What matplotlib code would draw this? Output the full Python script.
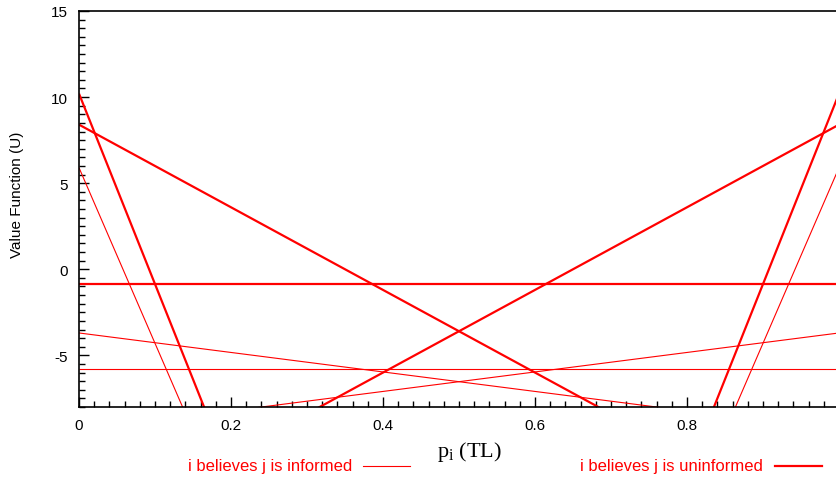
import matplotlib
matplotlib.use('Agg')
from matplotlib import pyplot as plt
from matplotlib.lines import Line2D
from matplotlib.ticker import MultipleLocator

# value function at p_i = 0 and p_i = 1 for each strategy line
p_ends = [0.0, 1.0]

# i believes j is uninformed
uninformed = [
    [10.2, -100.4],
    [-100.4, 10.2],
    [8.4, -15.6],
    [-15.6, 8.4],
    [-0.85, -0.85],
]

# i believes j is informed
informed = [
    [5.9, -96.1],
    [-96.1, 5.9],
    [-3.7, -9.36],
    [-9.36, -3.7],
    [-5.8, -5.8],
]

x_ticks = [0, 0.2, 0.4, 0.6, 0.8]
x_tick_labels = ['0', '0.2', '0.4', '0.6', '0.8']
y_ticks = [-5, 0, 5, 10, 15]

red = '#ff0000'
sans = 'Liberation Sans'
serif = 'Liberation Serif'

plt.rcParams['axes.unicode_minus'] = False
plt.rcParams['mathtext.fontset'] = 'custom'
plt.rcParams['mathtext.rm'] = serif
plt.rcParams['mathtext.it'] = serif

W, H = 836, 481
fig = plt.figure(figsize=(W / 100, H / 100), dpi=100)
ax = fig.add_axes([79 / W, (H - 408) / H, 760 / W, 396 / H])

for v in uninformed:
    ax.plot(p_ends, v, color=red, linewidth=1.6, solid_capstyle='butt')
for v in informed:
    ax.plot(p_ends, v, color=red, linewidth=0.8, solid_capstyle='butt')

ax.set_xlim(0, 1)
ax.set_ylim(-8, 15)
ax.set_xticks(x_ticks)
ax.set_xticklabels(x_tick_labels)
ax.set_yticks(y_ticks)
ax.xaxis.set_minor_locator(MultipleLocator(0.02))
ax.yaxis.set_minor_locator(MultipleLocator(0.5))
ax.tick_params(which='both', direction='in', top=False, right=False, width=1, color='black')
ax.tick_params(which='major', length=7, labelsize=11, pad=8)
ax.tick_params(which='minor', length=4)
for label in ax.get_xticklabels() + ax.get_yticklabels():
    label.set_fontname(sans)
for spine in ax.spines.values():
    spine.set_linewidth(1.2)

# axis titles
fig.text(17 / W, 1 - 195 / H, 'Value Function (U)', rotation=90, ha='center', va='center',
         fontsize=11, fontname=sans)
fig.text(469 / W, 1 - 452 / H, r'$\mathrm{p_i}$ (TL)', ha='center', va='center',
         fontsize=16, fontname=serif)

# key below the plot
fig.text(352 / W, 1 - 467 / H, 'i believes j is informed', ha='right', va='center',
         color=red, fontsize=12, fontname=sans)
fig.add_artist(Line2D([363 / W, 410 / W], [1 - 467 / H, 1 - 467 / H], color=red, linewidth=0.8))
fig.text(763 / W, 1 - 467 / H, 'i believes j is uninformed', ha='right', va='center',
         color=red, fontsize=12, fontname=sans)
fig.add_artist(Line2D([775 / W, 822 / W], [1 - 467 / H, 1 - 467 / H], color=red, linewidth=1.6))

fig.savefig('out.png', dpi=100)
